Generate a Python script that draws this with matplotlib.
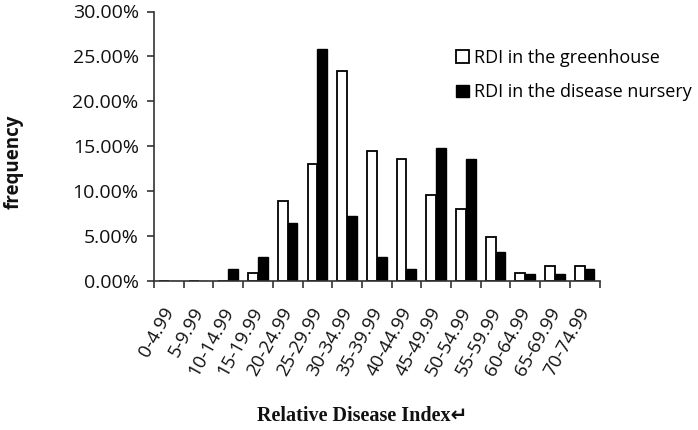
import matplotlib
matplotlib.use("Agg")
import matplotlib.pyplot as plt
import matplotlib.transforms as mtransforms
import numpy as np

# relative disease index classes
categories = ["0-4.99", "5-9.99", "10-14.99", "15-19.99", "20-24.99", "25-29.99",
              "30-34.99", "35-39.99", "40-44.99", "45-49.99", "50-54.99", "55-59.99",
              "60-64.99", "65-69.99", "70-74.99"]

# frequency in percent
greenhouse = [0, 0, 0, 0.9, 8.9, 13.0, 23.4, 14.5, 13.6, 9.6, 8.0, 4.9, 0.9, 1.7, 1.7]
nursery = [0, 0, 1.3, 2.7, 6.5, 25.8, 7.2, 2.7, 1.3, 14.8, 13.6, 3.2, 0.75, 0.75, 1.3]

yticks = [0, 5, 10, 15, 20, 25, 30]

plt.rcParams["font.family"] = ["Open Sans", "DejaVu Sans"]

fig = plt.figure(figsize=(6.98, 4.30), dpi=100)
ax = fig.add_axes([154 / 698, 1 - 281 / 430, (599.5 - 154) / 698, (281 - 11.5) / 430])

x = np.arange(len(categories))
w = 0.33
ax.bar(x - w / 2, greenhouse, w, color="white", edgecolor="black", linewidth=1.3,
       label="RDI in the greenhouse")
ax.bar(x + w / 2, nursery, w, color="black", edgecolor="black", linewidth=1.0,
       label="RDI in the disease nursery")

ax.set_xlim(-0.5, len(categories) - 0.5)
ax.set_ylim(0, 30)

for side in ["top", "right"]:
    ax.spines[side].set_visible(False)
for side in ["left", "bottom"]:
    ax.spines[side].set_color("#333333")
    ax.spines[side].set_linewidth(1.2)

ax.set_yticks(yticks)
ax.set_yticklabels(["%.2f%%" % v for v in yticks], fontsize=14, color="#111111")
ax.tick_params(axis="y", direction="out", length=5, width=1.2, color="#333333", pad=6)

# tick marks on the class boundaries, labels at the class centres
ax.set_xticks(np.arange(-0.5, len(categories)), minor=True)
ax.tick_params(axis="x", which="minor", direction="out", length=5, width=1.2, color="#333333")
ax.set_xticks(x)
ax.set_xticklabels(categories, fontsize=13.5, rotation=61, ha="right", va="center",
                   rotation_mode="anchor", color="#111111")
ax.tick_params(axis="x", which="major", length=0, pad=20)
offset = mtransforms.ScaledTranslation(1 / 100, 0, fig.dpi_scale_trans)
for lab in ax.get_xticklabels():
    lab.set_transform(lab.get_transform() + offset)

fig.text(13.5 / 698, 1 - 162 / 430, "frequency", rotation=90, ha="center", va="center",
         fontsize=13.5, fontweight="bold", color="#111111")
fig.text(362 / 698, 1 - 416 / 430, "Relative Disease Index\u21b5", ha="center", va="center",
         fontsize=14.5, fontweight="bold", family=["Liberation Serif", "DejaVu Sans"],
         color="#111111")

ax.legend(loc="upper left", bbox_to_anchor=(456 / 698, 1 - 49 / 430),
          bbox_transform=fig.transFigure, frameon=False, fontsize=13,
          handlelength=0.7, handleheight=0.7, handletextpad=0.3, labelspacing=0.9,
          borderaxespad=0, borderpad=0)

fig.savefig("out.png", dpi=100)
